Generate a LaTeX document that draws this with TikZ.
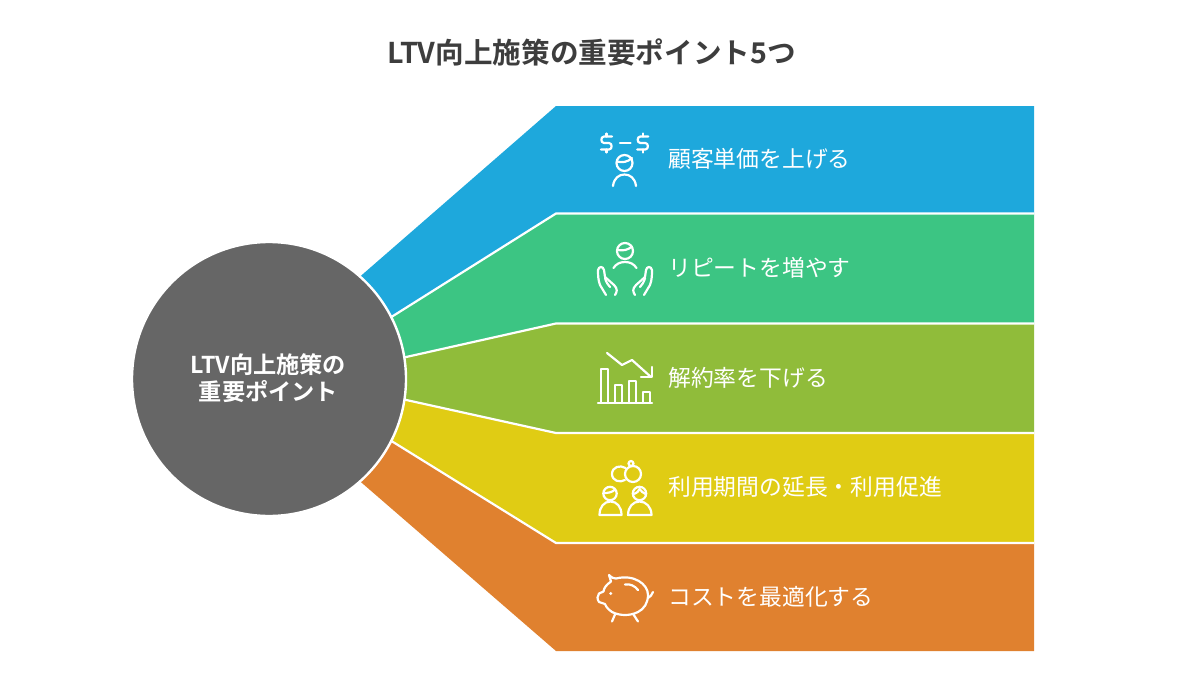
\documentclass[tikz,border=0pt]{standalone}
\usepackage{fontspec}
\setmainfont{Noto Sans CJK JP}
\newfontfamily\jpbold{Noto Sans CJK JP Bold}
\definecolor{cblue}{HTML}{1EA8DC}
\definecolor{cgreen}{HTML}{3CC583}
\definecolor{colive}{HTML}{90BC3A}
\definecolor{cyellow}{HTML}{E0CC14}
\definecolor{corange}{HTML}{E0812F}
\definecolor{cgray}{HTML}{666666}
\definecolor{ctitle}{HTML}{3D3D3D}
\tikzset{
  band/.style={draw=none},
  bandlabel/.style={anchor=west,inner sep=0pt,text=white,font=\fontsize{22.8}{26}\selectfont},
  icon/.style={draw=white,line width=2.2pt,line cap=round,line join=round},
  sep/.style={draw=white,line width=2.2pt,line join=round}
}
\begin{document}
\begin{tikzpicture}[x=1pt,y=-1pt]
\useasboundingbox (0,0) rectangle (1200,677);
% bands
\fill[band,cblue] (340,294) -- (556,106) -- (1034,106) -- (1034,213.5) -- (556,213.5) -- (380,324) -- cycle;
\fill[band,cgreen] (380,324) -- (556,213.5) -- (1034,213.5) -- (1034,323.5) -- (556,323.5) -- (380,363) -- cycle;
\fill[band,colive] (380,363) -- (556,323.5) -- (1034,323.5) -- (1034,433) -- (556,433) -- (380,394) -- cycle;
\fill[band,cyellow] (380,394) -- (556,433) -- (1034,433) -- (1034,543) -- (556,543) -- (380,434) -- cycle;
\fill[band,corange] (380,434) -- (556,543) -- (1034,543) -- (1034,651) -- (556,651) -- (340,464) -- cycle;
% separators
\draw[sep] (385,321) -- (556,213.5) -- (1034,213.5);
\draw[sep] (395,359.5) -- (556,323.5) -- (1034,323.5);
\draw[sep] (395,397.5) -- (556,433) -- (1034,433);
\draw[sep] (385,437) -- (556,543) -- (1034,543);
% circle
\node[circle,fill=cgray,draw=white,line width=2.4pt,minimum size=274pt,inner sep=0pt] (hub) at (269,379) {};
\node[text=white,align=center,inner sep=0pt,font=\jpbold\fontsize{23.2}{27}\selectfont] (hubtext) at (268.5,378) {LTV向上施策の\\重要ポイント};
% title
\node[text=ctitle,inner sep=0pt,font=\jpbold\fontsize{28.6}{32}\selectfont] (title) at (591.5,52) {LTV向上施策の重要ポイント5つ};
% labels
\node[bandlabel] (l1) at (668,159) {顧客単価を上げる};
\node[bandlabel] (l2) at (668,268) {リピートを増やす};
\node[bandlabel] (l3) at (668,378) {解約率を下げる};
\node[bandlabel] (l4) at (668,487) {利用期間の延長・利用促進};
\node[bandlabel] (l5) at (668,597) {コストを最適化する};
% icon 1: dollars and person
\foreach \cx in {606.5,642.8}{
\begin{scope}[shift={(\cx,0)}]
\draw[icon] (5.5,136.5) -- (-2.5,136.5) .. controls (-6,136.5) and (-6,143) .. (-2.5,143) -- (2.5,143) .. controls (6,143) and (6,149.5) .. (2.5,149.5) -- (-5.5,149.5);
\draw[icon] (0,133.5) -- (0,136.5) (0,149.5) -- (0,152.5);
\end{scope}}
\draw[icon] (620,143) -- (630.5,143);
\draw[icon] (624.5,163) circle (8);
\draw[icon] (617,161.5) .. controls (622,163) and (628,162) .. (632,158);
\draw[icon] (613,186) .. controls (614,178) and (619,174.5) .. (624.5,174.5) .. controls (630,174.5) and (635,178) .. (636,186);
% icon 2: hands and person
\draw[icon] (625,251) circle (8);
\draw[icon] (618,250) .. controls (623,251) and (628,250) .. (632,246.5);
\draw[icon] (613.5,268) .. controls (616,264) and (620,262) .. (625,262) .. controls (630,262) and (634,264) .. (636.5,268);
\foreach \s in {1,-1}{
\begin{scope}[shift={(625,0)},xscale=\s]
\draw[icon] (-19,295) -- (-25,285) .. controls (-27,280) and (-27,274) .. (-27,270) .. controls (-26,266) and (-22,266) .. (-21,270) -- (-20,277);
\draw[icon] (-20,277) -- (-11,285) .. controls (-7,289) and (-8,292) .. (-10,295);
\draw[icon] (-20,278) .. controls (-19,282) and (-17,285) .. (-15,287);
\end{scope}}
% icon 3: falling chart
\draw[icon] (598,403) -- (652,403);
\draw[icon] (601,403) -- (601,369) -- (608,369) -- (608,403);
\draw[icon] (615,403) -- (615,385) -- (622,385) -- (622,403);
\draw[icon] (629,403) -- (629,381) -- (636,381) -- (636,403);
\draw[icon] (643,403) -- (643,392) -- (650,392) -- (650,403);
\draw[icon] (607,353) -- (622,365) -- (632,360) -- (651,377);
\draw[icon] (652,367) -- (652,377) -- (641,377);
% icon 4: rings and couple
\draw[icon] (625.5,468) .. controls (620,464.5) and (612,467) .. (612,474) .. controls (612,481) and (620,483) .. (625,480);
\draw[icon] (633,474) circle (8);
\draw[icon] (631,463.5) circle (2.5);
\draw[icon] (610,493.5) circle (6.7);
\draw[icon] (604,493) .. controls (608,493) and (612,492.5) .. (615,489.5);
\draw[icon] (599.5,515) .. controls (599.5,507) and (604,501.5) .. (610.5,501.5) .. controls (617,501.5) and (621.5,507) .. (621.5,515) -- cycle;
\draw[icon] (639.5,493.5) circle (6.7);
\draw[icon] (633.5,494) .. controls (637,493) and (639,491) .. (639.5,489) .. controls (641,491) and (643,493) .. (645.5,494);
\draw[icon] (628,515) .. controls (628,507) and (633,501.5) .. (639.5,501.5) .. controls (646,501.5) and (651.5,507) .. (651.5,515) -- cycle;
% icon 5: piggy bank
\draw[icon] (609,575) .. controls (612,578) and (614,578.5) .. (616,578.5) .. controls (634,574) and (648,584) .. (648,595) .. controls (648,603) and (644,609) .. (638,612) .. controls (630,616) and (620,616) .. (612,612) .. controls (609,610) and (606,607) .. (605,604) -- (599,602) .. controls (597,599) and (597,596) .. (599,593.5) -- (603.5,591.5) .. controls (604,588) and (606,585) .. (611,581.5) -- cycle;
\draw[icon] (615,614.5) -- (612,621.5);
\draw[icon] (633.5,614.5) -- (638,621.5);
\draw[icon] (648,598) .. controls (650,597) and (652,595) .. (653,592);
\draw[icon] (625,584.5) .. controls (630,583.5) and (635,586) .. (638,590);
\fill[white] (610.7,593.5) circle (1.7);
\end{tikzpicture}
\end{document}
